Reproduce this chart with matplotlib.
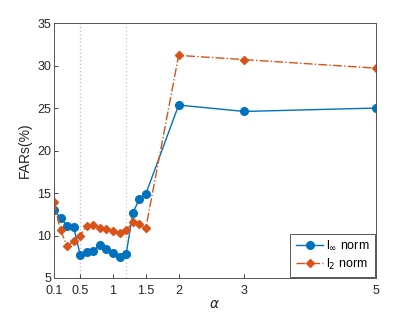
import numpy as np
import matplotlib.pyplot as plt

plt.rcParams['font.family'] = ['Liberation Sans', 'DejaVu Sans']

alpha = [0.1, 0.2, 0.3, 0.4, 0.5, 0.6, 0.7, 0.8, 0.9, 1.0, 1.1, 1.2, 1.3, 1.4, 1.5, 2, 3, 5]
far_inf = [13.0, 12.1, 11.15, 11.0, 7.7, 8.1, 8.2, 8.9, 8.4, 7.9, 7.5, 7.8, 12.6, 14.3, 14.9, 25.35, 24.6, 25.0]
far_l2 = [14.0, 10.6, 8.8, 9.3, 10.0, 11.15, 11.2, 10.9, 10.8, 10.5, 10.25, 10.6, 11.55, 11.3, 10.9, 31.2, 30.7, 29.7]
vlines = [0.5, 1.2]
xticks = [0.1, 0.5, 1, 1.5, 2, 3, 5]

fig = plt.figure(figsize=(4.15, 3.12), dpi=100)
ax = fig.add_axes([0.130, 0.109, 0.775, 0.817])

# dotted guide lines
ax.axvline(vlines[0], color='#dcb0f8', ls=':', lw=1.0, zorder=1)
ax.axvline(vlines[1], color='#cfcfcf', ls=':', lw=1.0, zorder=1)

ax.plot(alpha, far_inf, '-o', color='#0072BD', ms=5.5, lw=1.0, label=r'l$_\infty$ norm')
ax.plot(alpha, far_l2, '-.D', color='#D95319', ms=4.5, lw=1.0, label=r'l$_2$ norm')

ax.set_xlim(0.1, 5)
ax.set_ylim(5, 35)
ax.set_xticks(xticks)
ax.set_xticklabels(['0.1', '0.5', '1', '1.5', '2', '3', '5'])
ax.set_yticks(np.arange(5, 36, 5))
ax.tick_params(direction='in', length=3, labelsize=9, colors='#262626', width=0.6)
ax.tick_params(axis='y', pad=2)
ax.tick_params(axis='x', pad=5)
for s in ax.spines.values():
    s.set_color('#555555')
    s.set_linewidth(0.7)

ax.set_xlabel(r'$\alpha$', fontsize=10, color='#262626', labelpad=0)
ax.set_ylabel('FARs(%)', fontsize=10, color='#262626')

leg = ax.legend(loc='lower right', fontsize=9, fancybox=False, framealpha=1,
                edgecolor='#555555', borderpad=0.45, handlelength=2.2, handletextpad=0.2,
                labelspacing=0.35, borderaxespad=0.05)
leg.get_frame().set_linewidth(0.7)

fig.savefig('out.png', dpi=100)
